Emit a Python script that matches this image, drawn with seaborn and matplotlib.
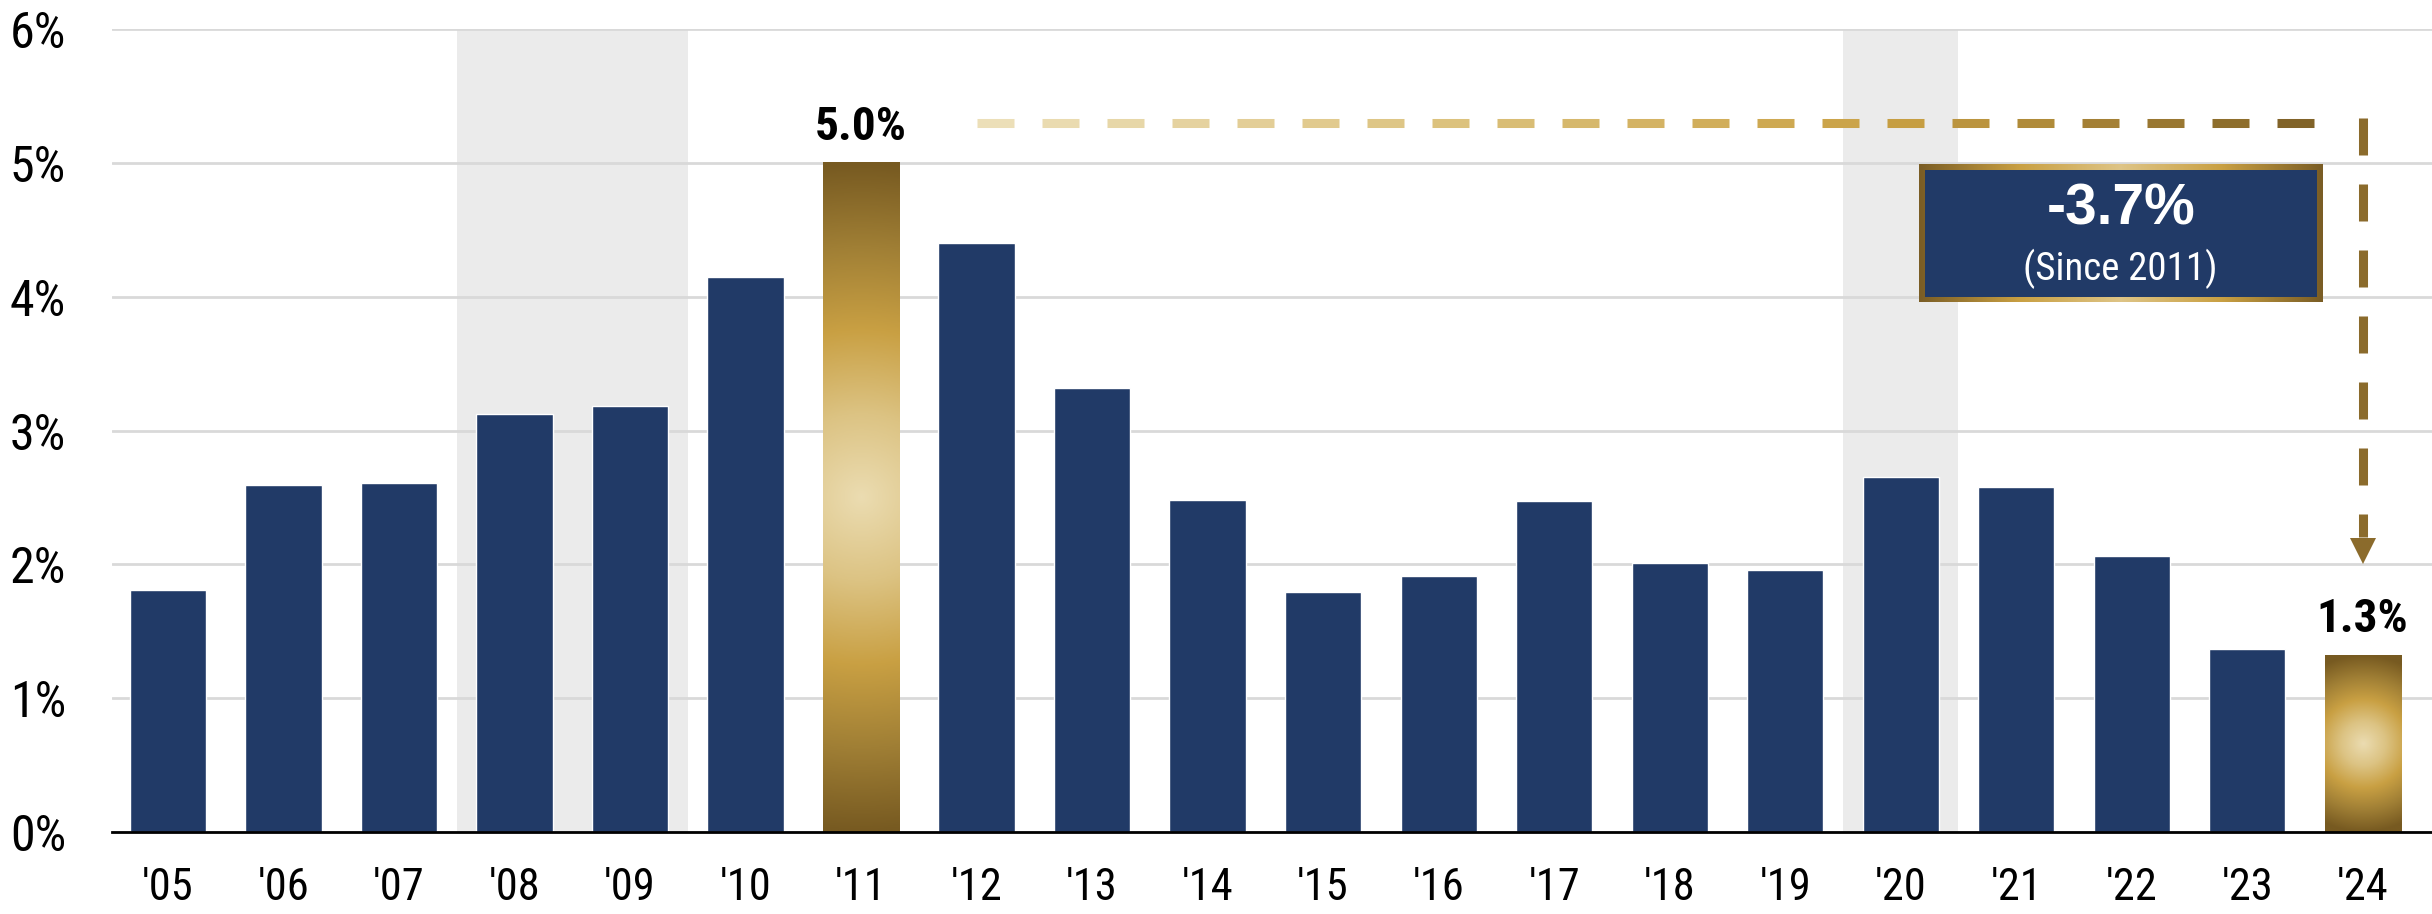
import numpy as np
import matplotlib.pyplot as plt
import seaborn as sns
from matplotlib.colors import LinearSegmentedColormap
from matplotlib.patches import Rectangle

# Data (annual rate, %)
years = ["'05", "'06", "'07", "'08", "'09", "'10", "'11", "'12", "'13", "'14",
         "'15", "'16", "'17", "'18", "'19", "'20", "'21", "'22", "'23", "'24"]
rates = [1.81, 2.59, 2.61, 3.12, 3.18, 4.15, 5.00, 4.40, 3.32, 2.48,
         1.79, 1.91, 2.47, 2.01, 1.96, 2.65, 2.58, 2.06, 1.37, 1.32]
rate_labels = {"'11": "5.0%", "'24": "1.3%"}
recession_spans = [("'08", "'09"), ("'20", "'20")]
change_value = "-3.7%"
change_note = "(Since 2011)"

NAVY = '#213a67'
SHADE = '#ebebeb'
GRID = '#d9d9d9'
ARROW = '#8b6b2c'
gold = LinearSegmentedColormap.from_list(
    'gold', ['#ebdcb1', '#dcc383', '#c9a043', '#a07f35', '#775a21'])
dash_cmap = LinearSegmentedColormap.from_list(
    'dash', ['#ecdfb8', '#dcc27e', '#c9a043', '#7a5d25'])
border_cmap = LinearSegmentedColormap.from_list(
    'border', ['#dec486', '#c9a043', '#7a5d25'])

sns.set_theme(style='white')
# narrow sans for most text, Arial-like for the big box figure
NARROW = ['Roboto Condensed', 'Archivo Narrow', 'Liberation Sans', 'DejaVu Sans']
WIDE = ['Liberation Sans', 'DejaVu Sans']
plt.rcParams['font.family'] = NARROW

fig = plt.figure(figsize=(24.32, 9.14), dpi=100)
ax = fig.add_axes([112 / 2432, 82 / 914, 1 - 112 / 2432, (832 - 29) / 914])

sns.barplot(x=years, y=rates, color=NAVY, width=0.66, saturation=1,
            errorbar=None, ax=ax, zorder=2)
bars = list(ax.containers[0])

# recession shading
for a, b in recession_spans:
    ax.axvspan(years.index(a) - 0.5, years.index(b) + 0.5, color=SHADE, lw=0, zorder=0.1)

XLIM, YLIM = (-0.485, 19.6), (0, 6)
ax.set_xlim(*XLIM)
ax.set_ylim(*YLIM)

# pixel size of one data unit
p0 = ax.transData.transform((0, 0))
px_x = ax.transData.transform((1, 0))[0] - p0[0]
px_y = ax.transData.transform((0, 1))[1] - p0[1]

# gold gradient bars
for name, text in rate_labels.items():
    i = years.index(name)
    bar = bars[i]
    x0, w, h = bar.get_x(), bar.get_width(), bar.get_height()
    hw, hh = w * px_x / 2, h * px_y / 2
    xx, yy = np.meshgrid(np.linspace(-hw, hw, 120), np.linspace(-hh, hh, 400))
    r = np.clip(np.hypot(xx, yy) / hh, 0, 1)
    ax.imshow(r, cmap=gold, vmin=0, vmax=1, extent=(x0, x0 + w, 0, h),
              aspect='auto', origin='lower', zorder=2.5, interpolation='bilinear')
    bar.set_visible(False)
    ax.annotate(text, (i, rates[i]), xytext=(0, 16.5), textcoords='offset points',
                ha='center', va='baseline', fontsize=34, fontweight='bold', color='black')

# dashed gradient line from the 2011 peak to 2024
i_peak = years.index("'11")
i_last = len(years) - 1
line_y = rates[i_peak] + 0.30
x_start, x_end = i_peak + 1, i_last - 0.35
dash, gap = 37 / px_x, 28 / px_x
for s in np.arange(x_start, x_end, dash + gap):
    e = min(s + dash, x_end)
    ax.plot([s, e], [line_y, line_y], color=dash_cmap((s - x_start) / (x_end - x_start)),
            lw=6.5, solid_capstyle='butt', zorder=4)

# vertical dashed arrow down to 2024
tip = 2.0
head = 27 / px_y
y_top = line_y + 4.5 / px_y
vdash, vgap = 37 / px_y, 29 / px_y
s = y_top
while s > tip + head:
    e = max(s - vdash, tip + head)
    ax.plot([i_last, i_last], [s, e], color=ARROW, lw=6.5, solid_capstyle='butt', zorder=4)
    s -= vdash + vgap
ax.plot(i_last, tip + head / 2, marker='v', ms=19.4, color=ARROW, mew=0, zorder=4)

# change box
bx0, bx1, by0, by1 = 15.16, i_last - 0.35, 3.96, 4.99
t = np.abs(np.linspace(-1, 1, 300))[None, :]
ax.imshow(t, cmap=border_cmap, vmin=0, vmax=1, extent=(bx0, bx1, by0, by1),
          aspect='auto', origin='lower', zorder=5, interpolation='bilinear')
ix, iy = 5.5 / px_x, 5.5 / px_y
ax.add_patch(Rectangle((bx0 + ix, by0 + iy), bx1 - bx0 - 2 * ix, by1 - by0 - 2 * iy,
                       facecolor=NAVY, edgecolor='none', zorder=6))
bxc = (bx0 + bx1) / 2
ax.text(bxc, 4.65, change_value, ha='center', va='center', color='white',
        fontsize=41, fontweight='bold', family=WIDE, zorder=7)
ax.text(bxc, 4.21, change_note, ha='center', va='center', color='white',
        fontsize=28, zorder=7)

ax.set_xlim(*XLIM)
ax.set_ylim(*YLIM)

# axes styling
ax.set_yticks(range(7))
ax.set_yticklabels([f'{v}%' for v in range(7)])
ax.yaxis.grid(True, color=GRID, lw=2)
ax.xaxis.grid(False)
ax.set_axisbelow(True)
for side in ['top', 'right', 'left']:
    ax.spines[side].set_visible(False)
ax.spines['bottom'].set_color('black')
ax.spines['bottom'].set_linewidth(2)
ax.spines['bottom'].set_zorder(3)
ax.tick_params(axis='y', length=0, labelsize=36, pad=33, colors='black')
ax.tick_params(axis='x', length=0, labelsize=32, pad=25, colors='black')
ax.set_xlabel('')
ax.set_ylabel('')

fig.savefig('out.png', dpi=100)
